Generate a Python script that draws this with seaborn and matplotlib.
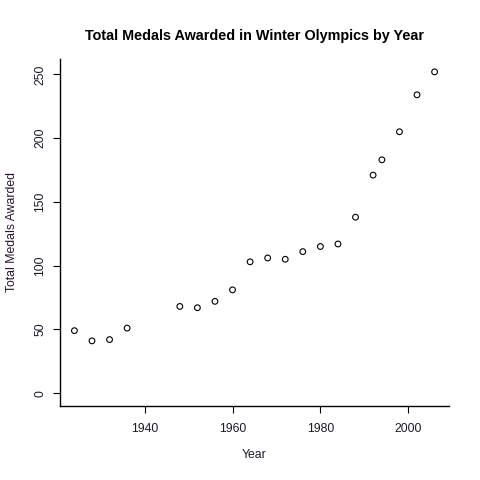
import numpy as np
import pandas as pd
import seaborn as sns
from matplotlib import pyplot as plt

years = [1924, 1928, 1932, 1936, 1948, 1952, 1956, 1960, 1964, 1968, 1972,
         1976, 1980, 1984, 1988, 1992, 1994, 1998, 2002, 2006]
medals = [49, 41, 42, 51, 68, 67, 72, 81, 103, 106, 105,
          111, 115, 117, 138, 171, 183, 205, 234, 252]

df = pd.DataFrame({'Year': years, 'Total': medals})

sns.set_style('white')
plt.rcParams['font.family'] = ['Liberation Sans', 'DejaVu Sans']

fig = plt.figure(figsize=(4.8, 4.8), dpi=100)
ax = fig.add_axes([0.125, 0.1542, 0.8104, 0.7229])

sns.scatterplot(data=df, x='Year', y='Total', ax=ax, marker='o', s=17,
                facecolor='none', edgecolor='black', linewidth=0.8)

# R style limits: 4% padding
ax.set_xlim(1920.72, 2009.28)
ax.set_ylim(-10.08, 262.08)
ax.set_xticks([1940, 1960, 1980, 2000])
ax.set_yticks([0, 50, 100, 150, 200, 250])

for s in ['top', 'right']:
    ax.spines[s].set_visible(False)
for s in ['left', 'bottom']:
    ax.spines[s].set_color('black')
    ax.spines[s].set_linewidth(1.0)

ax.tick_params(axis='both', direction='out', length=5, width=0.8,
               color='black', labelsize=8.8, labelcolor='#1a1a2a')
ax.tick_params(axis='x', pad=7, bottom=True)
ax.tick_params(axis='y', pad=5, left=True)
for lab in ax.get_yticklabels():
    lab.set_rotation(90)
    lab.set_va('center')

ax.set_xlabel('Year', fontsize=8.8, color='#1a1a2a')
ax.set_ylabel('Total Medals Awarded', fontsize=8.8, color='#2a1030')
ax.xaxis.set_label_coords(0.5, -0.125)
ax.yaxis.set_label_coords(-0.108, 0.5)
ax.set_title('Total Medals Awarded in Winter Olympics by Year',
             fontsize=10.4, fontweight='bold', color='black', pad=14)

fig.savefig('out.png', dpi=100)
